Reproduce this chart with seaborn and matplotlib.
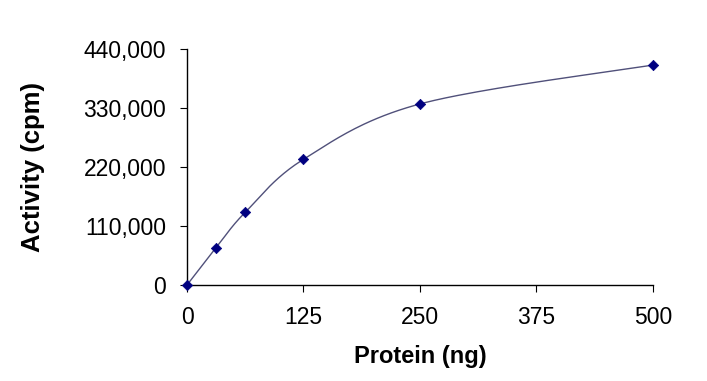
import numpy as np
import pandas as pd
import matplotlib
matplotlib.use("Agg")
import matplotlib.pyplot as plt
import seaborn as sns
from matplotlib.ticker import FuncFormatter

protein_ng = [0, 31.25, 62.5, 125, 250, 500]
activity_cpm = [0, 69700, 135700, 234600, 338000, 410700]
x_ticks = [0, 125, 250, 375, 500]
y_ticks = [0, 110000, 220000, 330000, 440000]

sns.set_theme(style="white")
plt.rcParams['font.family'] = ['Liberation Sans', 'DejaVu Sans']

df = pd.DataFrame({"Protein (ng)": protein_ng, "Activity (cpm)": activity_cpm})

# Excel-style smoothed line (Catmull-Rom Bezier) built from the data points
def smooth(xs, ys, n=40):
    xs = np.asarray(xs, float); ys = np.asarray(ys, float)
    P = np.column_stack([xs, ys])
    out = []
    for i in range(len(P) - 1):
        p0 = P[i - 1] if i > 0 else P[i]
        p1, p2 = P[i], P[i + 1]
        p3 = P[i + 2] if i + 2 < len(P) else P[i + 1]
        c1 = p1 + (p2 - p0) / 6.0
        c2 = p2 - (p3 - p1) / 6.0
        t = np.linspace(0, 1, n)[:, None]
        seg = (1 - t) ** 3 * p1 + 3 * (1 - t) ** 2 * t * c1 + 3 * (1 - t) * t ** 2 * c2 + t ** 3 * p2
        out.append(seg if i == 0 else seg[1:])
    return np.vstack(out)

curve = smooth(protein_ng, activity_cpm)
curve_df = pd.DataFrame({"x": curve[:, 0], "y": curve[:, 1]})

fig = plt.figure(figsize=(7.07, 3.81), dpi=100)
ax = fig.add_axes([0.2645, 0.252, 0.659, 0.6186])

sns.lineplot(data=curve_df, x="x", y="y", ax=ax, color="#50507a", linewidth=1.0,
             sort=False, estimator=None)
sns.scatterplot(data=df, x="Protein (ng)", y="Activity (cpm)", ax=ax, marker="D",
                color="#000080", s=28, edgecolor="#000080", linewidth=0.5, zorder=5, clip_on=False)

ax.set_xlim(0, 500)
ax.set_ylim(0, 440000)
ax.set_xticks(x_ticks)
ax.set_yticks(y_ticks)
ax.yaxis.set_major_formatter(FuncFormatter(lambda v, p: f"{int(v):,}"))

for s in ["top", "right"]:
    ax.spines[s].set_visible(False)
for s in ["left", "bottom"]:
    ax.spines[s].set_color("black")
    ax.spines[s].set_linewidth(1.0)

ax.tick_params(axis="both", which="major", direction="out", length=5, width=0.8,
               color="black", labelsize=16.5, labelcolor="black", left=True, bottom=True)
ax.tick_params(axis="y", pad=10)
ax.tick_params(axis="x", pad=10)

ax.set_xlabel("Protein (ng)", fontsize=17, fontweight="bold", labelpad=12, color="black")
ax.set_ylabel("Activity (cpm)", fontsize=18.5, fontweight="bold", color="black")
ax.yaxis.set_label_coords(-0.305, 0.5)

fig.savefig("out.png", dpi=100)
